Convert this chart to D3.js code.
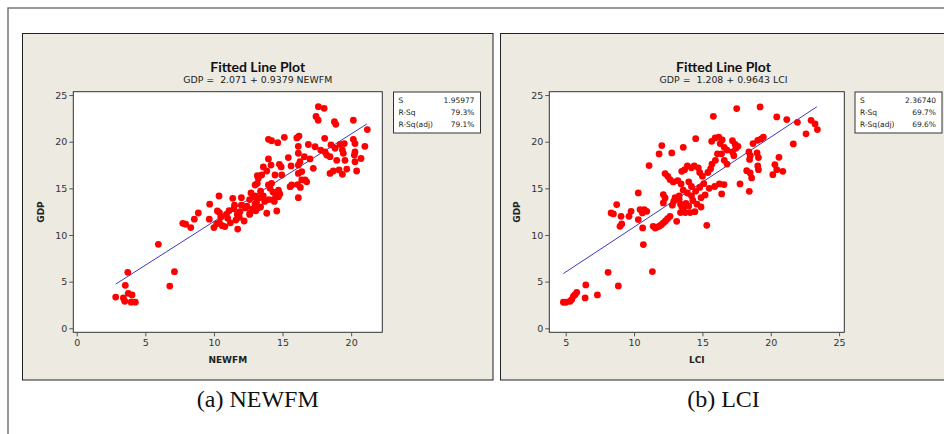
<!DOCTYPE html>
<html>
<head>
<meta charset="utf-8">
<script src="https://cdn.jsdelivr.net/npm/d3@7"></script>
<style>
  body { margin: 0; background: #fff; }
  svg text { font-family: "DejaVu Sans", sans-serif; }
</style>
</head>
<body>
<div id="chart"></div>
<script>

// NEWFM panel: x = NEWFM, y = GDP
const newfmX = [2.84,3.4,3.5,3.54,3.72,3.76,4.03,3.96,4.27,5.95,6.78,7.12,
  7.73,7.94,8.31,8.57,8.86,9.66,9.69,10.0,10.37,10.25,
  10.4,10.5,10.4,10.6,10.8,11.37,11.1,11.45,11.7,11.6,11.85,11.73,
  12.0,12.4,12.6,12.9,13.1,12.8,12.6,13.05,13.16,13.16,
  11.2,11.9,12.2,12.3,12.7,13.3,13.4,12.0,11.5,10.9,10.2,11.0,14.33,12.63,
  17.61,18.03,17.44,17.6,18.78,18.88,20.16,21.18,
  13.97,14.2,14.65,15.13,16.04,16.2,18.07,20.16,20.28,21.0,
  16.15,16.88,17.37,17.78,18.53,18.83,19.19,19.5,19.36,19.43,20.28,20.23,20.72,
  18.1,18.22,18.46,18.95,19.55,20.28,20.4,
  18.46,18.7,19.12,19.36,19.68,17.24,
  16.59,17.0,15.42,16.15,16.27,15.62,16.15,16.4,
  13.97,14.16,13.6,13.85,14.77,14.9,14.45,14.94,
  16.15,16.4,16.64,16.76,15.55,15.67,16.1,16.3,
  13.0,13.24,13.48,13.97,14.09,14.2,
  14.3,14.5,14.7,14.8,13.4,13.2,13.6,13.7,13.0,13.2,13.0,
  14.0,14.4,14.7,16.15,13.85,14.58]
const newfmGDP = [3.35,3.25,2.9,4.6,6.0,3.75,3.57,2.8,2.8,9.0,4.53,6.07,
  11.25,11.15,10.8,11.7,12.36,11.7,13.3,10.8,14.18,12.57,
  12.4,11.9,11.3,11.0,10.9,13.93,12.6,12.8,12.2,11.6,11.9,10.64,
  13.2,13.1,13.8,14.1,13.5,12.8,12.2,12.6,16.36,15.54,
  11.3,12.5,11.5,12.9,14.5,14.0,13.0,14.0,13.2,12.2,11.2,11.8,13.75,12.33,
  23.75,23.58,22.7,22.3,22.15,21.86,22.3,21.3,
  20.26,20.1,19.9,20.47,20.4,20.6,20.36,20.26,19.8,19.5,
  19.5,19.7,19.46,19.1,19.65,19.3,19.7,19.8,19.1,18.75,18.9,18.57,18.2,
  18.9,18.57,18.4,18.0,18.0,17.85,16.86,
  16.6,16.86,16.97,16.5,17.07,17.15,
  18.4,18.15,18.3,18.76,17.86,17.4,17.5,16.8,
  18.15,17.5,17.3,16.86,17.58,17.3,16.43,16.43,
  16.6,15.9,15.9,15.7,15.18,15.36,15.4,15.1,
  15.36,16.07,16.43,15.36,15.0,15.54,
  14.6,14.2,14.8,14.4,14.7,14.0,14.2,13.6,13.3,12.9,14.2,
  13.8,13.6,14.1,14.0,12.33,12.57]

// LCI panel: x = LCI, y = GDP
const lciX = [4.83,5.02,5.32,5.44,5.56,5.68,5.81,6.42,6.47,7.32,8.1,8.85,10.68,11.34,
  8.32,8.49,8.73,9.05,8.97,9.1,9.78,9.63,10.31,10.44,10.61,10.75,10.93,10.31,10.63,11.1,
  11.4,11.55,11.7,11.85,12.0,12.15,12.3,12.45,12.63,
  13.12,11.83,12.03,12.76,13.6,
  12.27,12.47,12.63,12.87,13.2,13.44,12.14,12.27,12.14,
  12.8,12.9,13.0,13.3,13.4,13.6,13.49,
  17.51,19.22,15.8,20.44,21.17,21.95,22.95,23.24,23.41,22.58,21.65,
  14.51,15.68,15.93,16.2,16.45,16.3,16.6,16.8,16.4,
  17.2,17.4,17.6,18.7,19.05,19.3,19.46,
  18.4,18.5,18.45,19.0,19.1,19.05,17.2,17.3,17.45,
  16.1,15.95,15.7,15.6,15.4,15.0,14.8,14.7,14.4,14.2,13.9,13.7,16.6,16.8,
  19.1,20.6,20.3,20.44,20.88,20.15,18.24,18.49,18.6,
  17.75,18.43,16.24,16.58,16.41,15.32,
  13.4,13.75,14.1,14.45,13.5,13.8,14.0,14.3,14.6,14.9,14.2,13.9,14.5,14.8,15.1,14.2,13.6,14.9,15.2,13.3,14.0,15.5,15.9]
const lciGDP = [2.79,2.79,2.9,3.08,3.43,3.6,3.86,3.26,4.65,3.58,6.0,4.54,8.97,6.08,
  12.37,12.26,13.26,12.0,10.93,11.19,12.54,12.0,14.51,12.72,12.37,12.72,12.54,11.65,10.76,17.44,
  10.93,10.75,10.85,10.95,11.1,11.3,11.5,11.75,12.0,
  11.47,18.69,19.58,18.8,19.4,
  16.58,16.29,15.94,15.69,15.83,15.47,14.33,13.97,13.44,
  13.2,13.6,14.0,14.2,13.3,12.9,16.83,
  23.55,23.73,22.72,22.66,22.37,22.08,22.29,21.9,21.3,20.84,19.76,
  20.33,20.04,20.41,20.5,20.2,19.8,19.4,19.1,18.7,
  20.1,19.7,19.5,19.8,20.15,20.3,20.5,
  18.9,18.5,18.1,18.8,18.3,17.4,18.9,18.5,19.3,
  18.7,18.0,17.6,17.1,16.7,16.3,16.7,17.2,17.4,17.2,17.4,17.0,18.0,17.6,
  17.0,18.33,17.55,17.0,16.83,16.47,16.9,16.65,16.12,
  15.47,14.68,15.47,15.4,14.4,11.04,
  12.4,12.4,12.4,12.5,13.0,13.4,13.1,13.7,13.3,14.0,14.2,14.5,14.7,15.1,15.5,15.2,14.8,13.0,14.3,13.8,15.7,15.0,15.2]

const yTicks = [0, 5, 10, 15, 20, 25]
const newfmTicks = [0, 5, 10, 15, 20]
const lciTicks = [5, 10, 15, 20, 25]

// regression fits and summary stats
const fitNEWFM = {a: 2.071, b: 0.9379, from: 2.84, to: 21.14}
const fitLCI = {a: 1.208, b: 0.9643, from: 4.83, to: 23.37}
const statLabels = ["S", "R-Sq", "R-Sq(adj)"]
const statsNEWFM = ["1.95977", "79.3%", "79.1%"]
const statsLCI = ["2.36740", "69.7%", "69.6%"]

const svg = d3.select("#chart")
    .append("svg")
    .attr("width", 944)
    .attr("height", 434)

// outer frame
svg.append("path")
    .attr("d", "M8,434 V8 H944")
    .attr("fill", "none")
    .attr("stroke", "#777")
    .attr("stroke-width", 1.5)

function Panel(opt) {
    const g = svg.append("g")

    g.append("rect")
        .attr("x", opt.px).attr("y", 33.5)
        .attr("width", opt.pw).attr("height", 346.5)
        .attr("fill", "#EDEAE1")
        .attr("stroke", "#222")

    const x = d3.scaleLinear().domain(opt.xDomain).range([opt.left, opt.right])
    const y = d3.scaleLinear().domain([-0.43, 25.36]).range([332.3, 91.7])

    g.append("rect")
        .attr("x", opt.left).attr("y", 91.7)
        .attr("width", opt.right - opt.left).attr("height", 332.3 - 91.7)
        .attr("fill", "#fff")
        .attr("stroke", "#333")

    const yAxis = g.append("g")
        .attr("transform", `translate(${opt.left},0)`)
        .call(d3.axisLeft(y).tickValues(yTicks).tickSize(4).tickPadding(2))
    const xAxis = g.append("g")
        .attr("transform", "translate(0,332.3)")
        .call(d3.axisBottom(x).tickValues(opt.xTicks).tickSize(4).tickPadding(3))

    for (const ax of [xAxis, yAxis]) {
        ax.select(".domain").remove()
        ax.selectAll("line").attr("stroke", "#555")
        ax.selectAll("text")
            .attr("fill", "#333")
            .style("font-size", "9.5px")
            .style("font-family", "DejaVu Sans")
    }

    // fitted line
    g.append("line")
        .attr("x1", x(opt.fit.from)).attr("y1", y(opt.fit.a + opt.fit.b * opt.fit.from))
        .attr("x2", x(opt.fit.to)).attr("y2", y(opt.fit.a + opt.fit.b * opt.fit.to))
        .attr("stroke", "#3A3ABF")
        .attr("stroke-width", 1)

    g.selectAll("circle")
        .data(opt.xs.map((v, i) => [v, opt.ys[i]]))
        .enter()
        .append("circle")
        .attr("cx", d => x(d[0]))
        .attr("cy", d => y(d[1]))
        .attr("r", 3.4)
        .attr("fill", "#F00")

    // titles
    const cx = opt.px + opt.pw / 2
    g.append("text")
        .attr("x", cx).attr("y", 72)
        .attr("text-anchor", "middle")
        .style("font-family", "Lato")
        .style("font-weight", "bold")
        .style("font-size", "14px")
        .attr("fill", "#111")
        .text("Fitted Line Plot")
    g.append("text")
        .attr("x", cx).attr("y", 83)
        .attr("text-anchor", "middle")
        .style("font-size", "9.4px")
        .attr("fill", "#222")
        .attr("xml:space", "preserve")
        .style("white-space", "pre")
        .text(opt.subtitle)

    // axis labels
    g.append("text")
        .attr("transform", `translate(${opt.left - 29},${(91.7 + 332.3) / 2}) rotate(-90)`)
        .attr("text-anchor", "middle")
        .style("font-size", "9px")
        .style("font-weight", "bold")
        .attr("fill", "#222")
        .text("GDP")
    g.append("text")
        .attr("x", (opt.left + opt.right) / 2).attr("y", 363)
        .attr("text-anchor", "middle")
        .style("font-size", "9px")
        .style("font-weight", "bold")
        .attr("fill", "#222")
        .text(opt.xLabel)

    // stats box
    const lg = g.append("g").attr("transform", `translate(${opt.legendX},92)`)
    lg.append("rect")
        .attr("width", 87).attr("height", 41)
        .attr("fill", "#fff")
        .attr("stroke", "#333")
    lg.selectAll("text.lab")
        .data(statLabels)
        .enter().append("text")
        .attr("class", "lab")
        .attr("x", 5).attr("y", (d, i) => 11 + i * 12)
        .style("font-size", "7.5px")
        .attr("fill", "#222")
        .text(d => d)
    lg.selectAll("text.val")
        .data(opt.stats)
        .enter().append("text")
        .attr("class", "val")
        .attr("x", 81).attr("y", (d, i) => 11 + i * 12)
        .attr("text-anchor", "end")
        .style("font-size", "7.5px")
        .attr("fill", "#222")
        .text(d => d)

    // caption
    svg.append("text")
        .attr("x", cx).attr("y", 407)
        .attr("text-anchor", "middle")
        .style("font-family", "Liberation Serif")
        .style("font-size", "24px")
        .attr("fill", "#111")
        .text(opt.caption)
}

Panel({
    px: 22.5, pw: 470.5,
    left: 73.3, right: 382.3, xDomain: [-0.25, 22.27], xTicks: newfmTicks,
    xs: newfmX, ys: newfmGDP, fit: fitNEWFM,
    subtitle: "GDP =  2.071 + 0.9379 NEWFM", xLabel: "NEWFM",
    legendX: 393.5, stats: statsNEWFM, caption: "(a) NEWFM"
})

Panel({
    px: 500.5, pw: 446,
    left: 549.3, right: 844.3, xDomain: [3.8, 25.38], xTicks: lciTicks,
    xs: lciX, ys: lciGDP, fit: fitLCI,
    subtitle: "GDP =  1.208 + 0.9643 LCI", xLabel: "LCI",
    legendX: 855, stats: statsLCI, caption: "(b) LCI"
})

</script>
</body>
</html>
